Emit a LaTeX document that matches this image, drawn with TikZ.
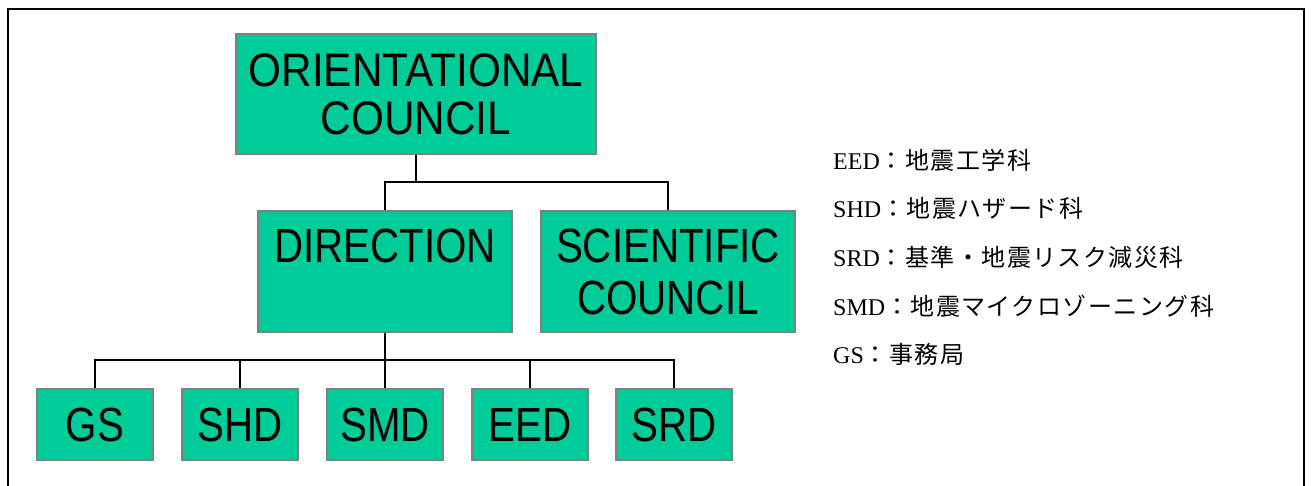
\documentclass[tikz,border=0pt]{standalone}
\usepackage{fontspec}
\setmainfont{Liberation Serif}
\newfontfamily\boxfont[FakeStretch=0.84]{Liberation Sans}
\newfontfamily\ocfont[FakeStretch=0.9]{Liberation Sans}
\newfontfamily\cjk[LetterSpace=6]{Noto Sans CJK JP}
\definecolor{boxgreen}{HTML}{00CC99}
\definecolor{boxedge}{HTML}{808080}
\tikzset{
  orgbox/.style={draw=boxedge, line width=1.5pt, fill=boxgreen, inner sep=0pt,
    align=center, text=black},
  bigbox/.style={orgbox, font=\ocfont\fontsize{47}{48}\selectfont},
  midbox/.style={orgbox, font=\boxfont\fontsize{48}{52}\selectfont,
    minimum width=254pt, minimum height=121pt},
  smallbox/.style={orgbox, font=\boxfont\fontsize{48}{48}\selectfont,
    minimum width=116pt, minimum height=71pt},
  conn/.style={draw=black, line width=2pt},
  legend/.style={anchor=west, inner sep=0pt, font=\fontsize{24}{26}\selectfont}
}
\newcommand{\jpt}[1]{{\cjk\fontsize{24}{26}\selectfont #1}}
\begin{document}
\begin{tikzpicture}[x=1pt, y=-1pt]
  \useasboundingbox (0,0) rectangle (1311,486);
  % frame, open at the bottom
  \draw[line width=1.8pt] (8,486) -- (8,9) -- (1304,9) -- (1304,486);

  % boxes
  \node[bigbox, minimum width=360pt, minimum height=120pt] (oc) at (416,94)
    {ORIENTATIONAL\\COUNCIL};
  \node[midbox] (dir) at (385,271.5) {DIRECTION\\[-16pt]\strut};
  \node[midbox] (sci) at (668,271.5) {SCIENTIFIC\\COUNCIL};

  \node[smallbox] (gs)  at (95,424.5)  {GS};
  \node[smallbox] (shd) at (240,424.5) {SHD};
  \node[smallbox] (smd) at (385,424.5) {SMD};
  \node[smallbox] (eed) at (530,424.5) {EED};
  \node[smallbox] (srd) at (674,424.5) {SRD};

  % connectors
  \coordinate (j1) at (416,182);
  \coordinate (j2) at (385,360);
  \draw[conn] (oc.south) -- (oc.south |- j1);
  \draw[conn] (dir.north) -- (dir.north |- j1) -- (sci.north |- j1) -- (sci.north);
  \draw[conn] (dir.south) -- (dir.south |- j2);
  \draw[conn] (gs.north) -- (gs.north |- j2) -- (srd.north |- j2) -- (srd.north);
  \draw[conn] (shd.north) -- (shd.north |- j2);
  \draw[conn] (smd.north) -- (smd.north |- j2);
  \draw[conn] (eed.north) -- (eed.north |- j2);

  % legend
  \node[legend] (lEED) at (833,160) {EED\jpt{：地震工学科}};
  \node[legend] (lSHD) at (833,208) {SHD\jpt{：地震ハザード科}};
  \node[legend] (lSRD) at (833,257) {SRD\jpt{：基準・地震リスク減災科}};
  \node[legend] (lSMD) at (833,306) {SMD\jpt{：地震マイクロゾーニング科}};
  \node[legend] (lGS)  at (833,354) {GS\jpt{：事務局}};
\end{tikzpicture}
\end{document}
